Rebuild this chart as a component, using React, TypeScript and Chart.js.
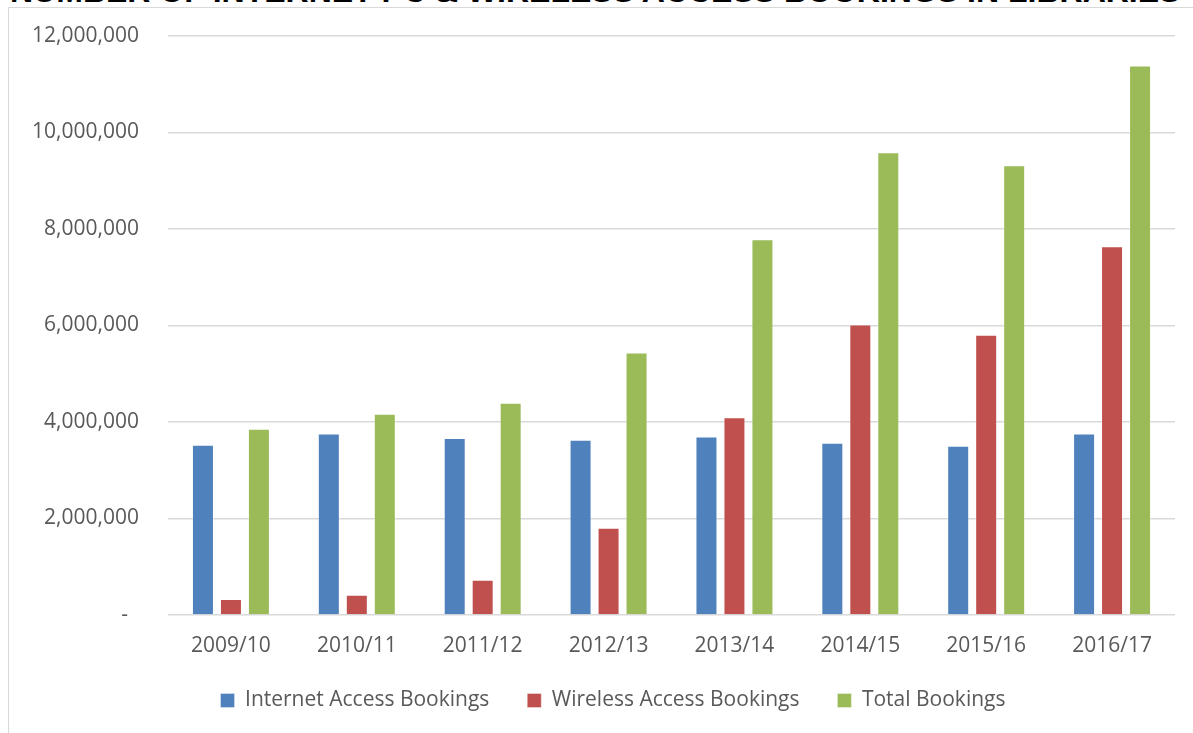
import React, { useEffect, useRef } from "react";
import { Chart, registerables } from "chart.js";

Chart.register(...registerables);

const categories = ["2009/10", "2010/11", "2011/12", "2012/13", "2013/14", "2014/15", "2015/16", "2016/17"];
const internetBookings = [3530000, 3760000, 3670000, 3630000, 3700000, 3570000, 3510000, 3760000];
const wirelessBookings = [330000, 420000, 730000, 1810000, 4100000, 6020000, 5810000, 7640000];
const totalBookings = [3860000, 4170000, 4400000, 5440000, 7790000, 9590000, 9320000, 11390000];
const seriesNames = ["Internet Access Bookings", "Wireless Access Bookings", "Total Bookings"];
const yTicks = [0, 2000000, 4000000, 6000000, 8000000, 10000000, 12000000];
const titleText = "NUMBER OF INTERNET PC & WIRELESS ACCESS BOOKINGS IN LIBRARIES";

const FONT = "'Open Sans', 'Noto Sans', sans-serif";
const TEXT = "#595959";

const legendShift = {
  id: "legendShift",
  afterLayout(chart: any) {
    if (chart.legend) chart.legend.left = 51;
  },
};

export default function App() {
  const ref = useRef<HTMLCanvasElement | null>(null);

  useEffect(() => {
    if (!ref.current) return;
    const chart = new Chart(ref.current, {
      type: "bar",
      plugins: [legendShift],
      data: {
        labels: categories,
        datasets: [
          { label: seriesNames[0], data: internetBookings, backgroundColor: "#4F81BD", borderColor: "rgba(255,255,255,0.35)", borderWidth: 1 },
          { label: seriesNames[1], data: wirelessBookings, backgroundColor: "#C0504D", borderColor: "rgba(255,255,255,0.35)", borderWidth: 1 },
          { label: seriesNames[2], data: totalBookings, backgroundColor: "#9BBB59", borderColor: "rgba(255,255,255,0.35)", borderWidth: 1 },
        ],
      },
      options: {
        animation: false,
        responsive: false,
        layout: { padding: { top: 36, right: 18, left: 0, bottom: 12 } },
        datasets: { bar: { categoryPercentage: 0.667, barPercentage: 0.786 } },
        plugins: {
          tooltip: { enabled: false },
          title: { display: false },
          legend: {
            position: "bottom",
            labels: {
              color: TEXT,
              font: { family: FONT, size: 21 },
              boxWidth: 14,
              boxHeight: 14,
              padding: 27,
              generateLabels: (c: any) => {
                const items = Chart.defaults.plugins.legend.labels.generateLabels(c);
                return items.map((it: any, i: number) => ({ ...it, text: i < 2 ? it.text + "  " : it.text }));
              },
            },
          },
        },
        scales: {
          x: {
            afterFit: (s: any) => { s.height = 48; },
            grid: { display: false },
            border: { display: false },
            ticks: { color: TEXT, font: { family: FONT, size: 21 }, padding: 10.5 },
          },
          y: {
            min: 0,
            max: 12000000,
            afterFit: (s: any) => { s.width = 168; s.paddingTop = 0; s.paddingBottom = 0; },
            afterBuildTicks: (s: any) => { s.ticks = yTicks.map((v) => ({ value: v })); },
            grid: { color: "#d9d9d9", lineWidth: 1.5, drawTicks: false },
            border: { display: false },
            ticks: {
              color: TEXT,
              font: { family: FONT, size: 21 },
              padding: 29,
              callback: (v: any) => (Number(v) === 0 ? "-  " : Number(v).toLocaleString("en-US")),
            },
          },
        },
      },
    });
    return () => chart.destroy();
  }, []);

  return (
    <div style={{ position: "absolute", left: 0, top: 0, width: 1193, height: 733, overflow: "hidden", background: "#fff" }}>
      <div
        style={{
          position: "absolute",
          left: 10,
          top: -25,
          whiteSpace: "nowrap",
          fontFamily: "'Liberation Sans', Arial, sans-serif",
          fontWeight: "bold",
          fontSize: 32,
          lineHeight: "32px",
          color: "#000",
        }}
      >
        {titleText}
      </div>
      <div
        style={{
          position: "absolute",
          left: 8,
          top: 7,
          width: 1300,
          height: 800,
          border: "1.5px solid #d9d9d9",
          boxSizing: "border-box",
        }}
      />
      <canvas ref={ref} width={1193} height={733} style={{ position: "absolute", left: 0, top: 0, width: 1193, height: 733 }} />
    </div>
  );
}
